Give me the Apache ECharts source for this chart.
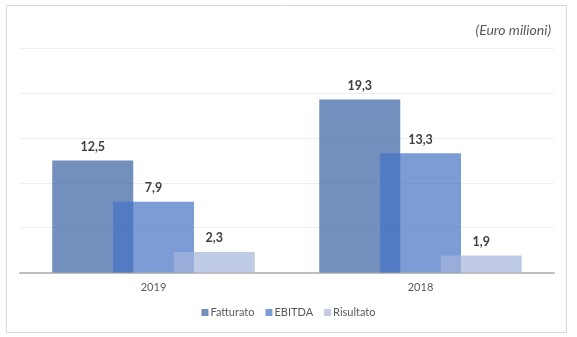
<!DOCTYPE html>
<html>
<head>
<meta charset="utf-8">
<script src="https://cdn.jsdelivr.net/npm/echarts@6/dist/echarts.min.js"></script>
<style>
html,body{margin:0;padding:0;background:#fff;}
#chart{width:577px;height:337px;}
</style>
</head>
<body>
<div id="chart"></div>
<script>
const categories = ['2019', '2018'];
const fatturato = [12.5, 19.3];
const ebitda = [7.9, 13.3];
const risultato = [2.3, 1.9];
const seriesNames = ['Fatturato', 'EBITDA', 'Risultato'];
const unitLabel = '(Euro milioni)';

const FONT = 'Lato, "Open Sans", sans-serif';
const fmt = p => p.value.toFixed(1).replace('.', ',');

const labelStyle = {
  show: true,
  position: 'top',
  distance: 7,
  formatter: fmt,
  fontFamily: FONT,
  fontWeight: 'bold',
  fontSize: 12.5,
  color: '#404040'
};

function bar(name, data, color) {
  return {
    name: name,
    type: 'bar',
    data: data,
    barWidth: 81,
    barGap: '-25%',
    itemStyle: { color: color },
    label: labelStyle
  };
}

const chart = echarts.init(document.getElementById('chart'), null, { renderer: 'canvas' });
chart.setOption({
  animation: false,
  backgroundColor: '#ffffff',
  title: {
    text: unitLabel,
    right: 26,
    top: 23,
    padding: 0,
    textStyle: {
      fontFamily: FONT,
      fontStyle: 'italic',
      fontWeight: 'normal',
      fontSize: 14,
      letterSpacing: 0.5,
      color: '#595959'
    }
  },
  graphic: [{
    type: 'rect',
    shape: { x: 6.5, y: 5.5, width: 560, height: 327 },
    style: { fill: 'none', stroke: '#d9d9d9', lineWidth: 1 },
    silent: true
  }],
  grid: { left: 20, right: 23, top: 48.5, bottom: 64.5 },
  legend: {
    data: seriesNames,
    bottom: 14,
    left: 'center',
    icon: 'rect',
    itemWidth: 7,
    itemHeight: 7,
    itemGap: 11,
    textStyle: { fontFamily: FONT, fontSize: 11, color: '#595959', padding: [0, 0, 0, -3] }
  },
  xAxis: {
    type: 'category',
    data: categories,
    axisTick: { show: false },
    axisLine: { lineStyle: { color: '#bfbfbf', width: 2 } },
    axisLabel: { fontFamily: FONT, fontSize: 11, color: '#595959', margin: 9 }
  },
  yAxis: {
    type: 'value',
    min: 0,
    max: 25,
    interval: 5,
    axisLabel: { show: false },
    axisLine: { show: false },
    axisTick: { show: false },
    splitLine: { lineStyle: { color: '#eeeeee', width: 1 } }
  },
  series: [
    bar(seriesNames[0], fatturato, 'rgba(54,95,162,0.7)'),
    bar(seriesNames[1], ebitda, 'rgba(68,114,196,0.7)'),
    bar(seriesNames[2], risultato, 'rgba(165,181,220,0.7)')
  ]
});
</script>
</body>
</html>
